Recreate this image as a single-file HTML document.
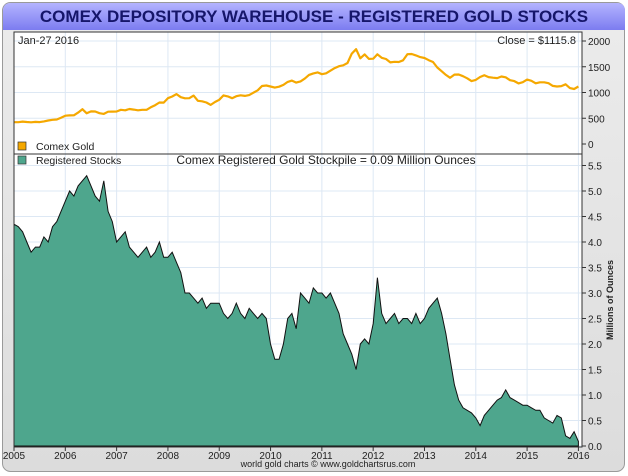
<!DOCTYPE html>
<html><head><meta charset="utf-8"><style>
body{margin:0;width:628px;height:476px;background:#fff;font-family:"Liberation Sans",sans-serif;overflow:hidden}
svg{display:block}
text{font-family:"Liberation Sans",sans-serif}
</style></head><body>
<svg id="c" width="628" height="476">
<defs>
<linearGradient id="tb" x1="0" y1="0" x2="0" y2="1"><stop offset="0" stop-color="#b4b4ff"/><stop offset="1" stop-color="#7c7cf0"/></linearGradient>
<linearGradient id="bg" x1="0" y1="0" x2="0" y2="1"><stop offset="0" stop-color="#ececec"/><stop offset="1" stop-color="#dcdcdc"/></linearGradient>
</defs>
<rect x="2.5" y="2.5" width="622" height="469" rx="8" fill="url(#bg)" stroke="#9a9a9a"/>
<path d="M3 30 V11 Q3 3 11 3 H617 Q625 3 625 11 V30 Z" fill="url(#tb)"/>
<text x="314" y="22" text-anchor="middle" font-size="17" font-weight="bold" fill="#16166a">COMEX DEPOSITORY WAREHOUSE - REGISTERED GOLD STOCKS</text>
<rect x="14" y="32" width="568" height="415" fill="#fff"/>
<g id="grid"></g>
<g id="series"></g>
<rect x="14" y="32" width="568" height="122" fill="none" stroke="#333"/>
<rect x="14" y="154" width="568" height="293" fill="none" stroke="#333"/>
<g id="axes"></g>
<text x="18" y="44" font-size="11" fill="#222">Jan-27  2016</text>
<text x="576" y="44" font-size="11" fill="#222" text-anchor="end">Close = $1115.8</text>
<rect x="18" y="142" width="8" height="8" fill="#f5a800" stroke="#333" stroke-width="0.7"/>
<text x="36" y="150" font-size="10.5" fill="#222">Comex Gold</text>
<rect x="18" y="156" width="8" height="8" fill="#4ea68d" stroke="#333" stroke-width="0.7"/>
<text x="36" y="164" font-size="10.5" fill="#222">Registered Stocks</text>
<text x="326" y="164" font-size="12" fill="#222" text-anchor="middle">Comex Registered Gold Stockpile = 0.09 Million Ounces</text>
<text transform="translate(613,300) rotate(-90)" font-size="9" font-weight="bold" fill="#222" text-anchor="middle">Millions of Ounces</text>
<text x="328" y="467" font-size="9" fill="#222" text-anchor="middle">world gold charts © www.goldchartsrus.com</text>
</svg>
<script>
const years = [2005,2006,2007,2008,2009,2010,2011,2012,2013,2014,2015,2016];
const goldTicks = [0,500,1000,1500,2000];
const stockTicks = [0,0.5,1,1.5,2,2.5,3,3.5,4,4.5,5,5.5];
const goldPrices = [424,423,434,428,422,430,425,438,456,470,476,510,
549,555,557,610,676,596,633,632,598,585,627,629,
631,664,655,679,667,655,665,665,712,754,806,803,
889,922,968,909,888,889,939,839,829,806,760,816,
858,943,924,890,928,945,934,949,996,1043,1127,1135,
1117,1095,1113,1148,1205,1232,1193,1215,1270,1342,1370,1391,
1356,1372,1424,1473,1510,1529,1572,1756,1840,1665,1739,1652,
1656,1742,1673,1650,1585,1596,1593,1626,1744,1747,1721,1688,
1670,1627,1593,1485,1414,1342,1286,1347,1349,1316,1275,1221,
1244,1300,1336,1299,1287,1279,1311,1296,1239,1222,1176,1200,
1251,1227,1178,1198,1199,1181,1128,1117,1125,1159,1086,1068,1116];
const stocks = [4.35,4.3,4.2,4.0,3.8,3.9,3.9,4.1,4.0,4.3,4.4,4.6,
4.8,5.0,4.9,5.1,5.2,5.3,5.1,4.9,4.8,5.2,4.6,4.4,
4.0,4.1,4.2,3.9,3.8,3.7,3.8,3.9,3.7,3.8,4.0,3.7,
3.7,3.8,3.6,3.4,3.0,3.0,2.9,2.8,2.9,2.7,2.8,2.8,
2.8,2.6,2.5,2.6,2.8,2.6,2.5,2.7,2.6,2.5,2.6,2.5,
2.0,1.7,1.7,2.0,2.5,2.6,2.3,3.0,2.9,2.8,3.1,3.0,
3.0,2.9,3.0,2.8,2.6,2.2,2.0,1.8,1.5,2.0,2.1,2.0,
2.4,3.3,2.6,2.4,2.5,2.6,2.4,2.5,2.5,2.4,2.6,2.4,
2.5,2.7,2.8,2.9,2.6,2.2,1.7,1.2,0.9,0.75,0.7,0.65,
0.55,0.4,0.6,0.7,0.8,0.9,0.95,1.1,0.95,0.9,0.85,0.8,
0.8,0.75,0.7,0.7,0.55,0.5,0.45,0.6,0.55,0.2,0.15,0.28,0.09];

const NS='http://www.w3.org/2000/svg';
const X0=14, X1=582;
function xYear(t){return X0+(t-2005)/(2016.07-2005)*(X1-X0);}
function xIdx(i){return xYear(2005+i/12);}
function yGold(v){return 144-v/2000*103;}
function yStock(v){return 446-v/5.5*280.5;}
function mk(tag,attrs,parent){const e=document.createElementNS(NS,tag);for(const k in attrs)e.setAttribute(k,attrs[k]);parent.appendChild(e);return e;}
const grid=document.getElementById('grid'), series=document.getElementById('series'), axes=document.getElementById('axes');

years.forEach(y=>{
  const x=xYear(y);
  const g=mk('line',{x1:x,x2:x,y1:32,y2:447,stroke:'#dde8f4','stroke-width':1},grid);
  
  
  const t=mk('line',{x1:x,x2:x,y1:447,y2:451,stroke:'#333'},axes);
  
  
  const l=mk('text',{x:x,y:459,'font-size':10,'text-anchor':'middle',fill:'#222'},axes);
  l.textContent=y;
  
  
});
goldTicks.forEach(v=>{
  const y=yGold(v);
  if(v>0){const g=mk('line',{x1:X0,x2:X1,y1:y,y2:y,stroke:'#dde8f4'},grid);
  
  }
  const t=mk('line',{x1:X1,x2:X1+4,y1:y,y2:y,stroke:'#333'},axes);
  
  
  const l=mk('text',{x:X1+6,y:y+4,'font-size':10,fill:'#222'},axes);
  l.textContent=v;
  
  
});
stockTicks.forEach(v=>{
  const y=yStock(v);
  const g=mk('line',{x1:X0,x2:X1,y1:y,y2:y,stroke:'#dde8f4'},grid);
  
  
  const t=mk('line',{x1:X1,x2:X1+4,y1:y,y2:y,stroke:'#333'},axes);
  
  
  const l=mk('text',{x:X1+6,y:y+4,'font-size':10,fill:'#222'},axes);
  l.textContent=v.toFixed(1);
  
  
});

let d='M'+X0+' '+yStock(0);
stocks.forEach((v,i)=>{d+=' L'+xIdx(i).toFixed(1)+' '+yStock(v).toFixed(1);});
d+=' L'+xIdx(stocks.length-1).toFixed(1)+' '+yStock(0)+' Z';
const area=mk('path',{d:d,fill:'#4ea68d',stroke:'#111','stroke-width':1},series);



let gd='';
goldPrices.forEach((v,i)=>{gd+=(i?' L':'M')+xIdx(i).toFixed(1)+' '+yGold(v).toFixed(1);});
const gl=mk('path',{d:gd,fill:'none',stroke:'#f5a800','stroke-width':2.2,'stroke-linejoin':'round'},series);


</script>
</body></html>
